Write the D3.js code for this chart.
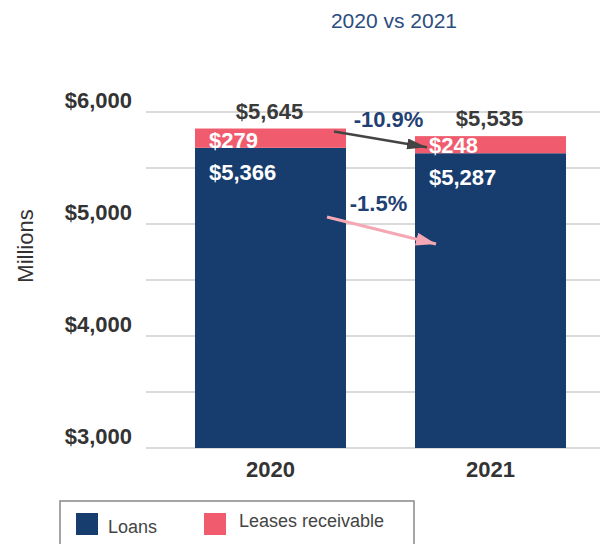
<!DOCTYPE html>
<html><head><meta charset="utf-8">
<script src="https://cdn.jsdelivr.net/npm/d3@7"></script>
<style>body{margin:0;background:#fff}svg{display:block;font-family:"Liberation Sans",Arial,sans-serif}</style>
</head><body><svg id="c" width="600" height="544"></svg>
<script>
const categories = ["2020", "2021"];
const loans = [5366, 5287];
const leases = [279, 248];
const totals = [5645, 5535];
const loanLabels = ["$5,366", "$5,287"];
const leaseLabels = ["$279", "$248"];
const totalLabels = ["$5,645", "$5,535"];
const changeLabels = ["-10.9%", "-1.5%"];
const tickValues = [3000, 4000, 5000, 6000];
const tickLabels = ["$3,000", "$4,000", "$5,000", "$6,000"];
const gridValues = [3000, 3500, 4000, 4500, 5000, 5500, 6000];
const seriesNames = ["Loans", "Leases receivable"];

const NAVY = "#173c6e", PINK = "#f05c6e";
const svg = d3.select("#c");

const x = d3.scaleBand().domain(categories).range([161, 600]).paddingInner(0.3136).paddingOuter(0.1545);
const y = d3.scaleLinear().domain([3000, 6000]).range([448, 112]);
// bars in the reference are drawn on their own (compressed) value scale
const barY = d3.scaleLinear().domain([1020, 6000]).range([448, 104]);

// gridlines
svg.append("g").selectAll("line").data(gridValues).join("line")
  .attr("x1", 146).attr("x2", 600)
  .attr("y1", d => y(d)).attr("y2", d => y(d))
  .attr("stroke", "#cfcfcf").attr("stroke-width", 1.5);

// y tick labels
svg.append("g").selectAll("text").data(tickValues).join("text")
  .attr("x", 132).attr("y", d => y(d) - 4)
  .attr("text-anchor", "end").attr("font-size", 22).attr("font-weight", "bold").attr("fill", "#333")
  .text((d, i) => tickLabels[i]);

// y axis title
svg.append("text").attr("transform", "translate(33,246) rotate(-90)")
  .attr("text-anchor", "middle").attr("font-size", 22).attr("fill", "#333").text("Millions");

// title
svg.append("text").attr("x", 394).attr("y", 28).attr("text-anchor", "middle")
  .attr("font-size", 21).attr("fill", "#2b4c7e").text("2020 vs 2021");

// bars
const g = svg.append("g");
g.selectAll("rect.loan").data(categories).join("rect").attr("class", "loan")
  .attr("x", d => x(d)).attr("width", x.bandwidth())
  .attr("y", (d, i) => barY(loans[i])).attr("height", (d, i) => barY(barY.domain()[0]) - barY(loans[i]))
  .attr("fill", NAVY);
g.selectAll("rect.lease").data(categories).join("rect").attr("class", "lease")
  .attr("x", d => x(d)).attr("width", x.bandwidth())
  .attr("y", (d, i) => barY(loans[i] + leases[i])).attr("height", (d, i) => barY(loans[i]) - barY(loans[i] + leases[i]))
  .attr("fill", PINK);

// x labels
svg.append("g").selectAll("text").data(categories).join("text")
  .attr("x", d => x(d) + x.bandwidth() / 2).attr("y", 477)
  .attr("text-anchor", "middle").attr("font-size", 22).attr("font-weight", "bold").attr("fill", "#333")
  .text(d => d);

// value labels
const lab = svg.append("g").attr("font-size", 22).attr("font-weight", "bold");
lab.selectAll("text.total").data(categories).join("text").attr("class", "total")
  .attr("x", d => x(d) + x.bandwidth() / 2 - 1).attr("y", (d, i) => barY(totals[i]) - 10)
  .attr("text-anchor", "middle").attr("fill", "#3a3a3a").text((d, i) => totalLabels[i]);
lab.selectAll("text.lease").data(categories).join("text").attr("class", "lease")
  .attr("x", d => x(d) + 14).attr("y", (d, i) => barY(loans[i]))
  .attr("fill", "#fff").text((d, i) => leaseLabels[i]);
lab.selectAll("text.loan").data(categories).join("text").attr("class", "loan")
  .attr("x", d => x(d) + 14).attr("y", (d, i) => barY(loans[i]) + 32)
  .attr("fill", "#fff").text((d, i) => loanLabels[i]);

// change annotations
const defs = svg.append("defs");
function marker(id, color, w, h) {
  defs.append("marker").attr("id", id).attr("markerUnits", "userSpaceOnUse")
    .attr("markerWidth", w).attr("markerHeight", h).attr("refX", w).attr("refY", h / 2)
    .attr("orient", "auto").append("path")
    .attr("d", `M0,0L${w},${h / 2}L0,${h}Z`).attr("fill", color);
}
marker("mDark", "#444", 20, 11);
marker("mPink", "#f5a8b4", 20, 13);

const x1r = x("2020") + x.bandwidth(), x2l = x("2021");
svg.append("line")
  .attr("x1", x1r - 12).attr("y1", barY(totals[0]) + 3)
  .attr("x2", x2l + 12).attr("y2", barY(loans[1]) - 6)
  .attr("stroke", "#444").attr("stroke-width", 2.5).attr("marker-end", "url(#mDark)");
svg.append("line")
  .attr("x1", x1r - 19).attr("y1", y(5063))
  .attr("x2", x2l + 21).attr("y2", y(4822))
  .attr("stroke", "#f5a8b4").attr("stroke-width", 3).attr("marker-end", "url(#mPink)");

svg.append("text").attr("x", (x1r + x2l) / 2 + 8).attr("y", barY(totals[1]) - 9)
  .attr("text-anchor", "middle").attr("font-size", 22).attr("font-weight", "bold").attr("fill", "#1f4173")
  .text(changeLabels[0]);
svg.append("text").attr("x", (x1r + x2l) / 2 - 2).attr("y", y(5000) - 13)
  .attr("text-anchor", "middle").attr("font-size", 22).attr("font-weight", "bold").attr("fill", "#1f4173")
  .text(changeLabels[1]);

// legend
const leg = svg.append("g");
leg.append("rect").attr("x", 60).attr("y", 501).attr("width", 354).attr("height", 60)
  .attr("fill", "#fff").attr("stroke", "#888").attr("stroke-width", 1.5);
const legColors = [NAVY, PINK], legX = [76, 204], legTextX = [108, 239], legTextY = [533, 527];
leg.selectAll("rect.sw").data(seriesNames).join("rect").attr("class", "sw")
  .attr("x", (d, i) => legX[i]).attr("y", 513).attr("width", 22).attr("height", 22)
  .attr("fill", (d, i) => legColors[i]);
leg.selectAll("text").data(seriesNames).join("text")
  .attr("x", (d, i) => legTextX[i]).attr("y", (d, i) => legTextY[i])
  .attr("font-size", 18).attr("fill", "#444").text(d => d);
</script></body></html>
